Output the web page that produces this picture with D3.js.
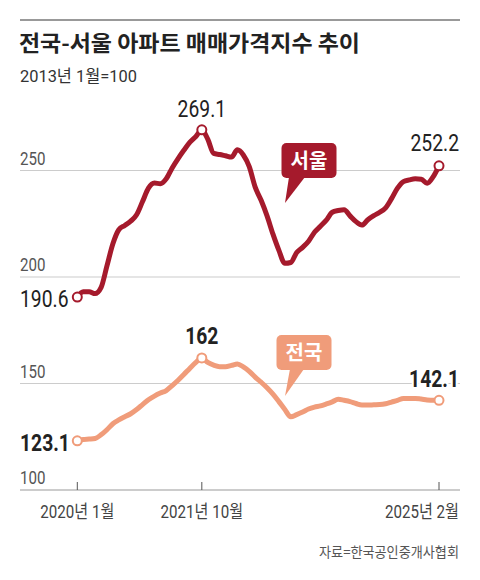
<!DOCTYPE html>
<html>
<head>
<meta charset="utf-8">
<script src="https://cdn.jsdelivr.net/npm/d3@7"></script>
<style>
  body { margin: 0; background: #fff; }
  svg text { font-family: Roboto, "Noto Sans CJK KR", sans-serif; }
  .kr { font-family: "Noto Sans CJK KR", sans-serif; }
</style>
</head>
<body>
<div id="chart"></div>
<script>
// 2020년 1월 ~ 2025년 2월, 월별 (62개월)
const seoul = [
  190.6, 193.1, 193.1, 192.2, 195.0, 205.2, 215.6, 222.2, 224.2, 226.2,
  229.2, 235.4, 241.7, 244.1, 243.8, 246.1, 251.2, 255.6, 259.6, 263.3,
  266.0, 269.1, 264.7, 258.0, 257.5, 256.9, 256.3, 259.7, 257.3, 251.8,
  242.2, 236.0, 228.7, 220.1, 212.5, 206.4, 206.8, 211.5, 213.9, 216.8,
  221.0, 223.8, 226.7, 230.4, 231.2, 231.6, 228.7, 226.0, 224.4, 226.9,
  228.8, 230.4, 232.5, 236.8, 241.7, 244.8, 245.6, 246.1, 245.9, 244.0,
  247.0, 252.2
];
const nation = [
  123.1, 123.7, 123.9, 124.2, 125.9, 128.3, 131.1, 132.9, 134.4, 135.8,
  137.8, 140.1, 142.4, 144.1, 145.5, 146.7, 149.0, 151.5, 154.3, 157.2,
  159.9, 162.0, 159.9, 158.6, 157.9, 157.9, 158.5, 159.2, 157.8, 155.7,
  153.0, 150.6, 148.0, 145.0, 141.5, 137.8, 134.4, 135.4, 136.6, 138.0,
  138.9, 139.5, 140.4, 141.4, 142.6, 142.1, 141.5, 140.6, 139.9, 139.9,
  140.0, 140.1, 140.5, 141.3, 142.1, 143.0, 143.0, 143.0, 142.7, 142.3,
  142.1, 142.1
];
const yTicks = [100, 150, 200, 250];
const xTickIndex = [0, 21, 61];
const xTickLabels = ["2020년 1월", "2021년 10월", "2025년 2월"];

const width = 480, height = 580;
const svg = d3.select("#chart").append("svg")
  .attr("width", width).attr("height", height);

const x = d3.scaleLinear().domain([0, seoul.length - 1]).range([77.3, 439]);
const y = d3.scaleLinear().domain([100, 250]).range([490, 170.5]);

// narrow text: placed with a horizontal squeeze
const SQ = 0.84;
function narrow(sel, px, py) {
  return sel.attr("transform", `translate(${px},${py}) scale(${SQ},1)`);
}

// top rule + titles
svg.append("line").attr("x1", 20).attr("x2", 460).attr("y1", 20).attr("y2", 20)
  .attr("stroke", "#999").attr("stroke-width", 2);
svg.append("text").attr("class", "kr").attr("x", 19).attr("y", 51)
  .attr("font-size", 22).attr("font-weight", 700).attr("fill", "#222")
  .attr("textLength", 341).attr("lengthAdjust", "spacingAndGlyphs")
  .text("전국-서울 아파트 매매가격지수 추이");
svg.append("text").attr("x", 20).attr("y", 82)
  .attr("font-size", 17).attr("fill", "#333")
  .attr("textLength", 117).attr("lengthAdjust", "spacingAndGlyphs")
  .text("2013년 1월=100");

// grid
svg.append("g").selectAll("line").data(yTicks).join("line")
  .attr("x1", 20).attr("x2", 460)
  .attr("y1", d => y(d)).attr("y2", d => y(d))
  .attr("stroke", d => d === 100 ? "#bbb" : "#ccc").attr("stroke-width", d => d === 100 ? 1.5 : 1.2);
svg.append("g").selectAll("text").data(yTicks).join("text")
  .each(function (d) { narrow(d3.select(this), 20, y(d) - 6); })
  .attr("font-size", 18).attr("fill", "#555")
  .text(d => d);

// x ticks
svg.append("g").selectAll("line").data(xTickIndex).join("line")
  .attr("x1", d => x(d)).attr("x2", d => x(d))
  .attr("y1", 482).attr("y2", 490)
  .attr("stroke", "#555").attr("stroke-width", 1);
svg.append("g").selectAll("text").data(xTickIndex).join("text")
  .each(function (d) { narrow(d3.select(this), d === 61 ? 459 : x(d), 518); })
  .attr("text-anchor", d => d === 61 ? "end" : "middle")
  .attr("font-size", 18).attr("fill", "#444")
  .text((d, i) => xTickLabels[i]);

svg.append("text").attr("class", "kr").attr("x", 459).attr("y", 557)
  .attr("text-anchor", "end").attr("font-size", 14).attr("fill", "#555")
  .attr("textLength", 140).attr("lengthAdjust", "spacingAndGlyphs")
  .text("자료=한국공인중개사협회");

const line = d3.line().x((d, i) => x(i)).y(d => y(d)).curve(d3.curveMonotoneX);

function series(data, color, w) {
  svg.append("path").datum(data)
    .attr("d", line).attr("fill", "none")
    .attr("stroke", color).attr("stroke-width", w)
    .attr("stroke-linejoin", "round").attr("stroke-linecap", "round");
}

const seoulColor = "#a51a2c";
const nationColor = "#f09c7a";

series(seoul, seoulColor, 5);
series(nation, nationColor, 5);

const marks = [
  { s: seoul, i: 0, c: seoulColor }, { s: seoul, i: 21, c: seoulColor }, { s: seoul, i: 61, c: seoulColor },
  { s: nation, i: 0, c: nationColor }, { s: nation, i: 21, c: nationColor }, { s: nation, i: 61, c: nationColor }
];
svg.append("g").selectAll("circle").data(marks).join("circle")
  .attr("cx", d => x(d.i)).attr("cy", d => y(d.s[d.i]))
  .attr("r", 4.5).attr("fill", "#fff")
  .attr("stroke", d => d.c).attr("stroke-width", 2);

// value labels
const fmt = v => (v % 1 === 0 ? d3.format("d")(v) : d3.format(".1f")(v));
const labels = [
  { s: seoul, i: 0, anchor: "start", px: 20, dy: 10, bold: false },
  { s: seoul, i: 21, anchor: "middle", px: null, dy: -13, bold: false },
  { s: seoul, i: 61, anchor: "end", px: 459, dy: -15, bold: false },
  { s: nation, i: 0, anchor: "start", px: 20, dy: 10, bold: true },
  { s: nation, i: 21, anchor: "middle", px: null, dy: -14, bold: true },
  { s: nation, i: 61, anchor: "end", px: 459, dy: -13, bold: true }
];
svg.append("g").selectAll("text").data(labels).join("text")
  .each(function (d) {
    narrow(d3.select(this), d.px === null ? x(d.i) : d.px, y(d.s[d.i]) + d.dy);
  })
  .attr("text-anchor", d => d.anchor)
  .attr("font-size", 23).attr("font-weight", d => d.bold ? 700 : 400)
  .attr("fill", "#222")
  .attr("stroke", "#fff").attr("stroke-width", 5).attr("paint-order", "stroke")
  .text(d => fmt(d.s[d.i]));

// callouts
function callout(cx, top, w, h, tip, base1, base2, color, label) {
  const g = svg.append("g");
  g.append("rect").attr("x", cx - w / 2).attr("y", top).attr("width", w).attr("height", h)
    .attr("rx", 5).attr("fill", color);
  g.append("path")
    .attr("d", `M${base1},${top + h - 1}L${tip[0]},${tip[1]}L${base2},${top + h - 1}Z`)
    .attr("fill", color);
  g.append("text").attr("class", "kr").attr("x", cx).attr("y", top + h / 2 + 7)
    .attr("text-anchor", "middle").attr("font-size", 20).attr("font-weight", 700)
    .attr("fill", "#fff").text(label);
}
callout(309, 143, 55, 35, [285, 203], 289, 305, seoulColor, "서울");
callout(304, 335, 55, 35, [285, 396], 290, 304, nationColor, "전국");
</script>
</body>
</html>
